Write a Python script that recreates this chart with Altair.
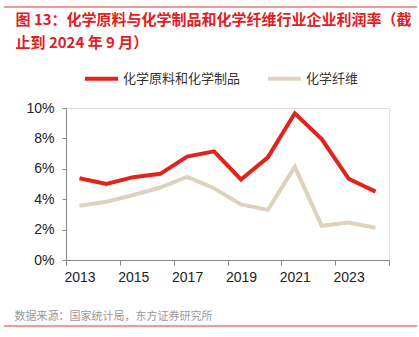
import altair as alt
import pandas as pd

years = list(range(2013, 2025))
raw_chem = [5.38, 5.0, 5.45, 5.67, 6.8, 7.15, 5.3, 6.75, 9.65, 7.95, 5.35, 4.5]
fiber = [3.57, 3.83, 4.28, 4.77, 5.47, 4.72, 3.66, 3.3, 6.13, 2.25, 2.47, 2.12]
series = ["化学原料和化学制品", "化学纤维"]
colors = ["#E2231A", "#DDD3BD"]
y_ticks = [0, 2, 4, 6, 8, 10]
x_labels = [2013, 2015, 2017, 2019, 2021, 2023]
x_tick_marks = [2012.5, 2014.5, 2016.5, 2018.5, 2020.5, 2022.5, 2024.5]

title_l1 = "图 13：化学原料与化学制品和化学纤维行业企业利润率（截"
title_l2 = "止到 2024 年 9 月）"
source = "数据来源：国家统计局，东方证券研究所"

df = pd.DataFrame({
    "year": years * 2,
    "value": raw_chem + fiber,
    "series": [series[0]] * len(years) + [series[1]] * len(years),
})

CJK = "Noto Sans CJK SC"
LAT = "Liberation Sans"
xscale = alt.Scale(domain=[2012.5, 2024.5], nice=False, zero=False)

lines = alt.Chart(df).mark_line(strokeWidth=4).encode(
    x=alt.X("year:Q", scale=xscale,
            axis=alt.Axis(values=x_labels + x_tick_marks, grid=False, orient="bottom",
                          labelExpr="datum.value % 2 == 1 ? datum.value : ''",
                          tickOpacity={"condition": {"test": "datum.value % 1 != 0", "value": 1}, "value": 0},
                          tickSize=5, tickColor="#888888", domainColor="#888888",
                          labelFont=LAT, labelFontSize=14, labelColor="#222222",
                          labelPadding=5, labelOverlap=False, labelFlush=False,
                          title=source, titleX=-52, titleY=56, titleAlign="left",
                          titleAnchor="start", titleBaseline="middle", titleAngle=0,
                          titleFont=CJK, titleFontSize=11, titleFontWeight="normal",
                          titleColor="#9A9A9A")),
    y=alt.Y("value:Q",
            scale=alt.Scale(domain=[0, 10], nice=False),
            axis=alt.Axis(values=y_ticks, title=None, grid=False,
                          labelExpr="datum.value + '%'",
                          tickSize=4, tickColor="#888888", domainColor="#888888",
                          labelFont=LAT, labelFontSize=14, labelColor="#222222",
                          labelPadding=8)),
    color=alt.Color("series:N", sort=series,
                    scale=alt.Scale(domain=series, range=colors),
                    legend=alt.Legend(title=None, orient="none", direction="horizontal",
                                      legendX=17, legendY=-48,
                                      symbolType="stroke", symbolStrokeWidth=4, symbolSize=1089,
                                      labelFont=CJK, labelFontSize=13, labelColor="#333333",
                                      labelOffset=3, columnPadding=19, padding=0)),
)

title_layer = alt.Chart(df).mark_point(opacity=0, size=1).encode(
    x=alt.X("year:Q", scale=xscale,
            axis=alt.Axis(orient="top", domain=False, ticks=False, labels=False, grid=False,
                          title=[title_l1, title_l2], titleX=-51, titleY=-96,
                          titleAlign="left", titleAnchor="start", titleBaseline="top",
                          titleAngle=0, titleLineHeight=23,
                          titleFont=CJK, titleFontSize=15, titleFontWeight="bold",
                          titleColor="#E0201E")),
    y=alt.value(0),
)

deco_top = pd.DataFrame({"k": [1]})
deco_bot = pd.DataFrame({"k": [2]})

top_rule = alt.Chart(deco_top).mark_rule(color="#E6787A", strokeWidth=1.5).encode(
    x=alt.value(-62), x2=alt.value(351), y=alt.value(-101))
bot_rule = alt.Chart(deco_bot).mark_rule(color="#F09A9A", strokeWidth=2).encode(
    x=alt.value(-62), x2=alt.value(351), y=alt.value(218))

chart = alt.layer(lines, title_layer, top_rule, bot_rule).resolve_axis(
    x="independent"
).properties(
    width=323, height=152,
    autosize=alt.AutoSizeParams(type="none"),
    padding={"left": 66, "top": 108, "right": 30, "bottom": 77},
).configure_view(stroke=None).configure(background="white")

chart.save("out.html", embed_options={"renderer": "svg", "actions": False})
